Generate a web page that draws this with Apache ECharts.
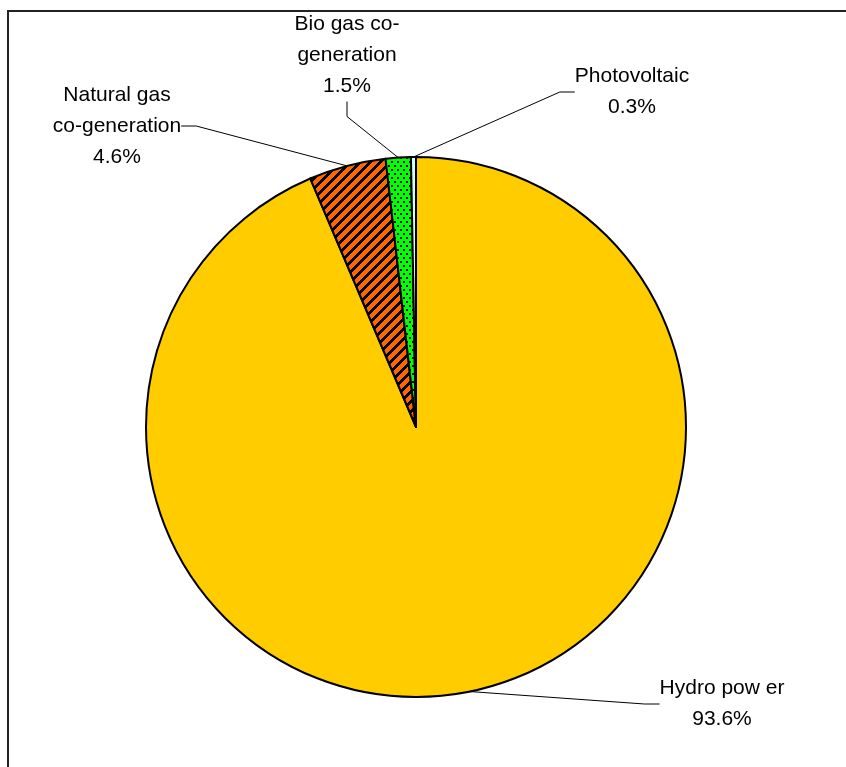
<!DOCTYPE html>
<html>
<head>
<meta charset="utf-8">
<script src="https://cdn.jsdelivr.net/npm/echarts@6/dist/echarts.min.js"></script>
<style>
  html, body { margin: 0; padding: 0; background: #fff; }
  #chart { width: 846px; height: 767px; }
</style>
</head>
<body>
<div id="chart"></div>
<script>
// slice names (label text) and shares in %, clockwise from 12 o'clock
const categories = ['Hydro pow er', 'Natural gas\nco-generation', 'Bio gas co-\ngeneration', 'Photovoltaic'];
const shares = [93.6, 4.6, 1.5, 0.3];

// where each label sits (centre x, middle y)
const labelSpots = [[722, 704], [117, 126], [347, 55], [632, 92]];

/* hatched orange fill */
function stripeTile() {
  let n = 10;
  let c = document.createElement('canvas');
  c.width = n; c.height = n;
  let ctx = c.getContext('2d');
  ctx.fillStyle = '#FF6600';
  ctx.fillRect(0, 0, n, n);
  ctx.fillStyle = '#000';
  for (let x = 0; x < n; x++) {
    for (let y = 0; y < n; y++) {
      let k = (x + y) % n;
      if (k < 4) ctx.fillRect(x, y, 1, 1);
    }
  }
  return c;
}

/* dotted green fill */
function dotTile() {
  let c = document.createElement('canvas');
  c.width = 6; c.height = 8;
  let ctx = c.getContext('2d');
  ctx.fillStyle = '#00FF00';
  ctx.fillRect(0, 0, 6, 8);
  ctx.fillStyle = '#000';
  ctx.fillRect(1, 1, 2, 2);
  ctx.fillRect(4, 5, 2, 2);
  return c;
}

const fills = [
  '#FFCC00',
  { image: stripeTile(), repeat: 'repeat' },
  { image: dotTile(), repeat: 'repeat' },
  '#CCFFFF'
];

let myChart = echarts.init(document.getElementById('chart'), null, { renderer: 'canvas' });

let dataset = [];
for (let i = 0; i < categories.length; i++) {
  dataset.push({
    name: categories[i],
    value: shares[i],
    itemStyle: { color: fills[i] }
  });
}

let option = {
  backgroundColor: '#fff',
  animation: false,
  graphic: [{
    type: 'rect',
    shape: { x: 8, y: 11, width: 900, height: 900 },
    style: { fill: 'none', stroke: '#222', lineWidth: 2 },
    silent: true
  }],
  series: [{
    type: 'pie',
    center: [416, 427],
    radius: [0, 270],
    startAngle: 90,
    clockwise: true,
    percentPrecision: 1,
    avoidLabelOverlap: false,
    itemStyle: { borderColor: '#000', borderWidth: 2 },
    emphasis: { disabled: true },
    label: {
      show: true,
      formatter: '{b}\n{d}%',
      fontFamily: 'Liberation Sans, Arial, sans-serif',
      fontSize: 21,
      lineHeight: 31,
      color: '#000'
    },
    labelLine: {
      show: true,
      length: 15,
      length2: 15,
      lineStyle: { color: '#000', width: 1 }
    },
    labelLayout: function (params) {
      let p = labelSpots[params.dataIndex];
      return { x: p[0], y: p[1], align: 'center', verticalAlign: 'middle' };
    },
    data: dataset
  }]
};

myChart.setOption(option);
</script>
</body>
</html>
